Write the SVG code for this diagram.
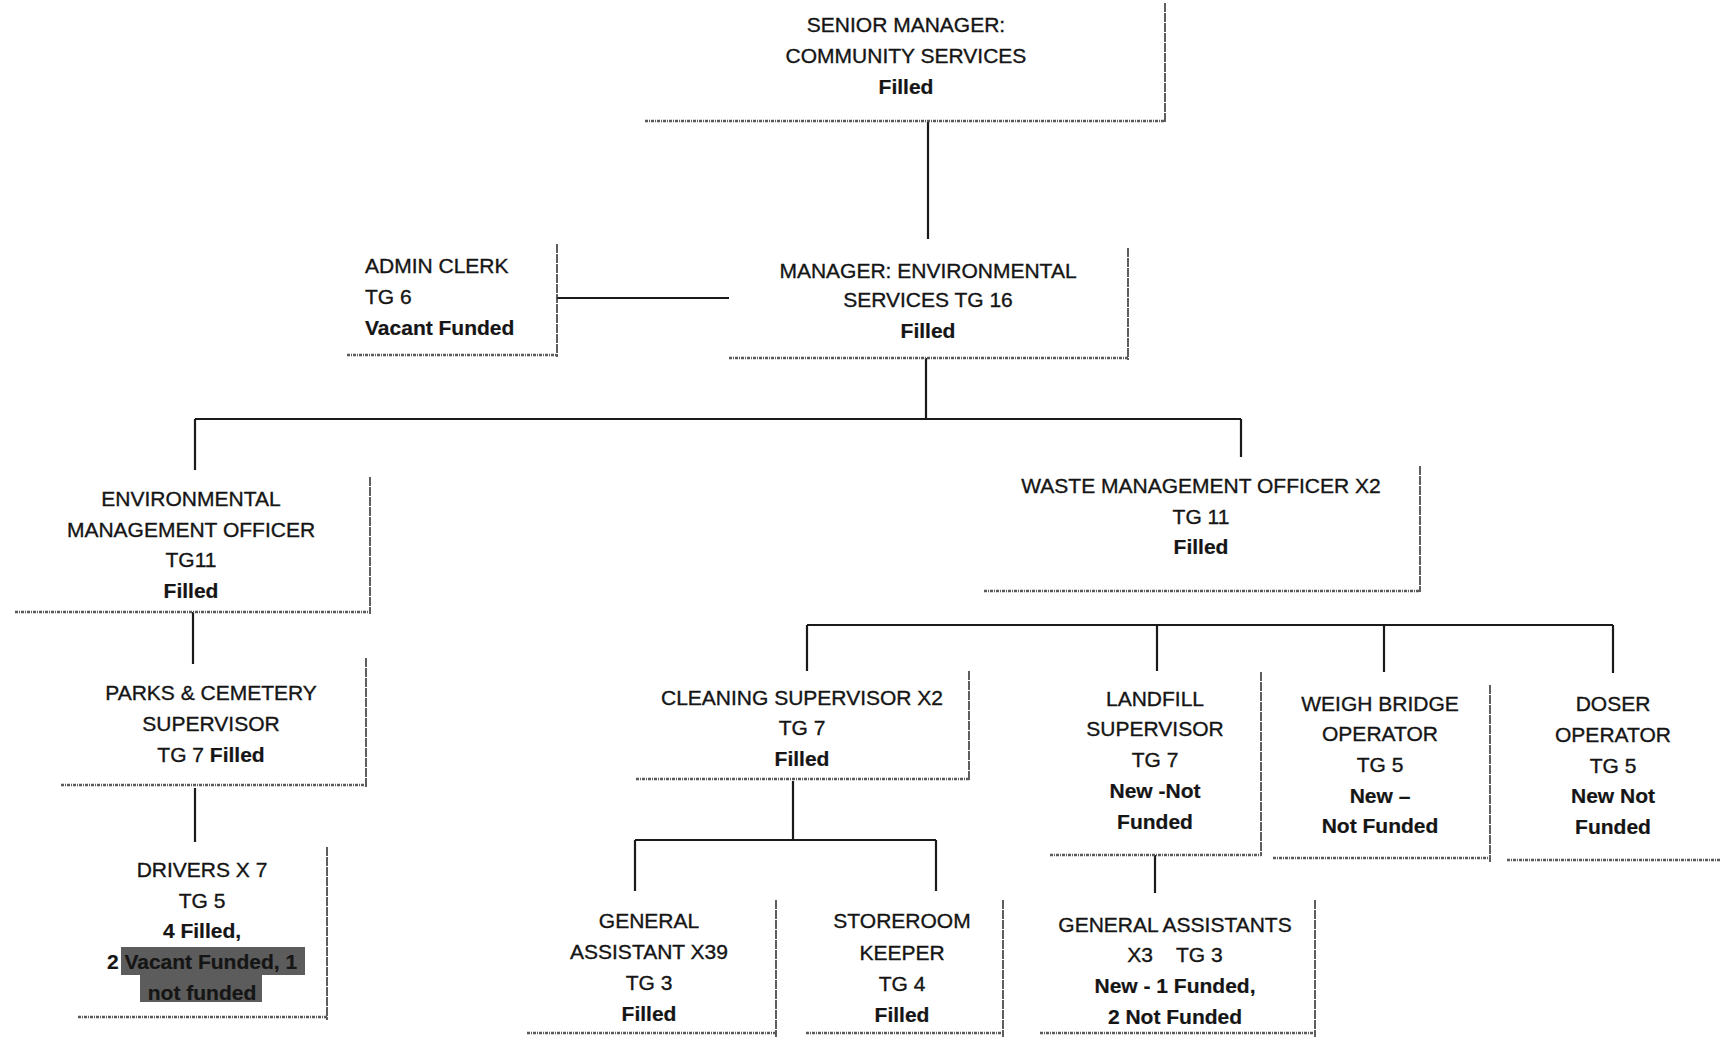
<svg xmlns="http://www.w3.org/2000/svg" width="1720" height="1037" viewBox="0 0 1720 1037">
  <style>
    text { font-family: "Liberation Sans", Arial, sans-serif; font-size: 21px; fill: #151515; stroke: #151515; stroke-width: 0.35; text-anchor: middle; }
    text.left { text-anchor: start; }
    .b { font-weight: bold; stroke-width: 0.2; }
    .edge { stroke: #2a2a2a; stroke-width: 1.5; stroke-dasharray: 9 1; fill: none; }
    .base { stroke: #5a5a5a; stroke-width: 2.4; stroke-dasharray: 3 1 1 1; fill: none; }
    .link { stroke: #1a1a1a; stroke-width: 2.2; fill: none; }
    .hl { fill: #5c5c5c; }
  </style>
  <rect width="1720" height="1037" fill="#ffffff"/>

  <!-- reporting lines -->
  <g id="connectors">
    <path class="link" d="M928 121V239"/>
    <path class="link" d="M557 298H729"/>
    <path class="link" d="M926 358V419M195 419H1241M195 419V470M1241 419V457"/>
    <path class="link" d="M193 612V664"/>
    <path class="link" d="M195 788V842"/>
    <path class="link" d="M807 625H1613M807 625V671M1157 625V671M1384 625V672M1613 625V673"/>
    <path class="link" d="M793 781V840M635 840H936M635 840V891M936 840V891"/>
    <path class="link" d="M1155 855V893"/>
  </g>

  <g id="senior-manager">
    <path class="edge" d="M1165 3V123"/>
    <path class="base" d="M645 121H1165"/>
    <text x="906" y="31.5">SENIOR MANAGER:</text>
    <text x="906" y="62.5">COMMUNITY SERVICES</text>
    <text x="906" y="93.5" class="b">Filled</text>
  </g>

  <g id="admin-clerk">
    <path class="edge" d="M557 244V357"/>
    <path class="base" d="M347 355H557"/>
    <text x="365" y="272.5" class="left">ADMIN CLERK</text>
    <text x="365" y="303.5" class="left">TG 6</text>
    <text x="365" y="334.5" class="left b">Vacant Funded</text>
  </g>

  <g id="manager-environmental">
    <path class="edge" d="M1128 248V360"/>
    <path class="base" d="M729 358H1128"/>
    <text x="928" y="277.5">MANAGER: ENVIRONMENTAL</text>
    <text x="928" y="307">SERVICES TG 16</text>
    <text x="928" y="337.5" class="b">Filled</text>
  </g>

  <g id="environmental-officer">
    <path class="edge" d="M370 477V614"/>
    <path class="base" d="M15 612H370"/>
    <text x="191" y="505.5">ENVIRONMENTAL</text>
    <text x="191" y="536.5">MANAGEMENT OFFICER</text>
    <text x="191" y="567">TG11</text>
    <text x="191" y="597.5" class="b">Filled</text>
  </g>

  <g id="waste-officer">
    <path class="edge" d="M1420 466V592"/>
    <path class="base" d="M984 591H1420"/>
    <text x="1201" y="492.5">WASTE MANAGEMENT OFFICER X2</text>
    <text x="1201" y="523.5">TG 11</text>
    <text x="1201" y="553.5" class="b">Filled</text>
  </g>

  <g id="parks-supervisor">
    <path class="edge" d="M366 658V788"/>
    <path class="base" d="M61 785H366"/>
    <text x="211" y="699.5">PARKS &amp; CEMETERY</text>
    <text x="211" y="730.5">SUPERVISOR</text>
    <text x="211" y="761.5">TG 7 <tspan class="b">Filled</tspan></text>
  </g>

  <g id="drivers">
    <path class="edge" d="M327 847V1020"/>
    <path class="base" d="M78 1017H327"/>
    <rect class="hl" x="121" y="947" width="184" height="28"/>
    <rect class="hl" x="140" y="975" width="122" height="27"/>
    <text x="202" y="876.5">DRIVERS X 7</text>
    <text x="202" y="907.5">TG 5</text>
    <text x="202" y="937.5" class="b">4 Filled,</text>
    <text x="202" y="968.5" class="b">2 Vacant Funded, 1</text>
    <text x="202" y="999.5" class="b">not funded</text>
  </g>

  <g id="cleaning-supervisor">
    <path class="edge" d="M969 671V781"/>
    <path class="base" d="M636 779H969"/>
    <text x="802" y="704.5">CLEANING SUPERVISOR X2</text>
    <text x="802" y="734.5">TG 7</text>
    <text x="802" y="765.5" class="b">Filled</text>
  </g>

  <g id="general-assistant">
    <path class="edge" d="M776 900V1037"/>
    <path class="base" d="M527 1033H776"/>
    <text x="649" y="927.5">GENERAL</text>
    <text x="649" y="958.5">ASSISTANT X39</text>
    <text x="649" y="989.5">TG 3</text>
    <text x="649" y="1020.5" class="b">Filled</text>
  </g>

  <g id="storeroom-keeper">
    <path class="edge" d="M1003 900V1037"/>
    <path class="base" d="M806 1033H1003"/>
    <text x="902" y="927.5">STOREROOM</text>
    <text x="902" y="959.5">KEEPER</text>
    <text x="902" y="990.5">TG 4</text>
    <text x="902" y="1021.5" class="b">Filled</text>
  </g>

  <g id="landfill-supervisor">
    <path class="edge" d="M1261 672V856"/>
    <path class="base" d="M1050 855H1261"/>
    <text x="1155" y="705.5">LANDFILL</text>
    <text x="1155" y="735.5">SUPERVISOR</text>
    <text x="1155" y="766.5">TG 7</text>
    <text x="1155" y="797.5" class="b">New -Not</text>
    <text x="1155" y="828.5" class="b">Funded</text>
  </g>

  <g id="weigh-bridge-operator">
    <path class="edge" d="M1490 685V862"/>
    <path class="base" d="M1273 858H1490"/>
    <text x="1380" y="710.5">WEIGH BRIDGE</text>
    <text x="1380" y="740.5">OPERATOR</text>
    <text x="1380" y="771.5">TG 5</text>
    <text x="1380" y="802.5" class="b">New –</text>
    <text x="1380" y="832.5" class="b">Not Funded</text>
  </g>

  <g id="doser-operator">
    <path class="base" d="M1507 860H1720"/>
    <text x="1613" y="710.5">DOSER</text>
    <text x="1613" y="741.5">OPERATOR</text>
    <text x="1613" y="772.5">TG 5</text>
    <text x="1613" y="802.5" class="b">New Not</text>
    <text x="1613" y="833.5" class="b">Funded</text>
  </g>

  <g id="general-assistants-landfill">
    <path class="edge" d="M1315 900V1037"/>
    <path class="base" d="M1040 1033H1315"/>
    <text x="1175" y="931.5">GENERAL ASSISTANTS</text>
    <text x="1175" y="961.5" xml:space="preserve">X3    TG 3</text>
    <text x="1175" y="992.5" class="b">New - 1 Funded,</text>
    <text x="1175" y="1023.5" class="b">2 Not Funded</text>
  </g>
</svg>
